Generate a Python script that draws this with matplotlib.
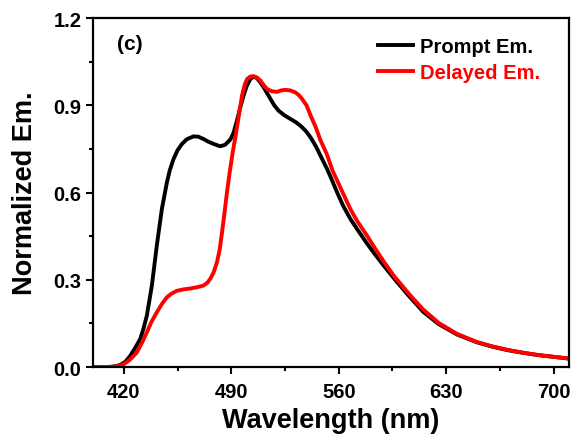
import numpy as np
import matplotlib
matplotlib.use("Agg")
import matplotlib.pyplot as plt
from matplotlib.ticker import MultipleLocator, FormatStrFormatter

# prompt emission (black)
prompt_wl = [400, 410, 415, 418, 421, 424, 427, 430.7, 433, 435, 438.3, 441.5,
             444.8, 448.1, 450, 452.4, 455, 457.9, 461, 465.4, 468.5, 471.9,
             475, 478.5, 482.8, 486, 489.4, 491.5, 493.7, 496, 498, 500,
             502.4, 504.5, 506.3, 508.5, 511.1, 513.3, 515.5, 518, 520.9,
             524.5, 528.5, 532, 535, 538.5, 541.6, 545, 548.1, 552.4, 555,
             559, 563, 567.6, 572, 578.5, 584, 589.4, 596, 604.6, 615, 625,
             637, 650, 660, 670, 680, 690, 700, 710]
prompt = [0.0, 0.0, 0.003, 0.008, 0.018, 0.037, 0.062, 0.096, 0.135, 0.176,
          0.28, 0.417, 0.543, 0.635, 0.677, 0.715, 0.745, 0.767, 0.783, 0.793,
          0.792, 0.784, 0.775, 0.767, 0.759, 0.764, 0.782, 0.805, 0.847, 0.895,
          0.933, 0.965, 0.99, 0.998, 0.995, 0.982, 0.962, 0.942, 0.922, 0.9,
          0.881, 0.866, 0.853, 0.842, 0.83, 0.812, 0.79, 0.76, 0.727, 0.681,
          0.65, 0.6, 0.553, 0.509, 0.474, 0.424, 0.385, 0.348, 0.305, 0.251,
          0.19, 0.148, 0.112, 0.085, 0.07, 0.058, 0.049, 0.041, 0.035, 0.029]

# delayed emission (red)
delayed_wl = [400, 412, 416, 420, 424, 428.5, 432, 435, 438, 441.5, 445,
              448.1, 451, 454.6, 459, 463.3, 467.5, 471.9, 474.5, 476.3,
              478.5, 480.7, 482.5, 484, 485.6, 487.2, 489, 491, 493, 494.8,
              497, 498.7, 500.3, 502.5, 504.6, 506.8, 509, 511, 513.3, 516.5,
              519.8, 522.5, 525.2, 528.5, 531.8, 534, 536.1, 539, 541.6, 545,
              548.1, 552.4, 556, 559, 563, 567.6, 572, 578.5, 584, 589.4, 596,
              606.8, 615, 625, 637, 650, 660, 670, 680, 690, 700, 710]
delayed = [0.0, 0.0, 0.003, 0.01, 0.025, 0.05, 0.085, 0.119, 0.155, 0.188,
           0.218, 0.24, 0.252, 0.262, 0.267, 0.27, 0.274, 0.28, 0.29, 0.303,
           0.325, 0.36, 0.405, 0.463, 0.53, 0.6, 0.67, 0.74, 0.8, 0.86,
           0.933, 0.97, 0.99, 0.999, 1.0, 0.995, 0.985, 0.97, 0.956, 0.948,
           0.946, 0.951, 0.953, 0.951, 0.944, 0.935, 0.922, 0.9, 0.866, 0.825,
           0.78, 0.73, 0.675, 0.641, 0.595, 0.543, 0.502, 0.451, 0.405, 0.362,
           0.313, 0.245, 0.198, 0.152, 0.114, 0.086, 0.071, 0.059, 0.049,
           0.041, 0.035, 0.029]

xticks = [420, 490, 560, 630, 700]
xminor = [455, 525, 595, 665]

plt.rcParams['font.family'] = ['Liberation Sans', 'DejaVu Sans']
plt.rcParams['font.weight'] = 'bold'

fig = plt.figure(figsize=(5.71, 4.39), dpi=100)
ax = fig.add_axes([0.163, 0.1617, 0.8335, 0.795])

ax.plot(prompt_wl, prompt, color='black', lw=2.8, label='Prompt Em.')
ax.plot(delayed_wl, delayed, color='#ff0000', lw=2.8, label='Delayed Em.')

ax.set_xlim(400, 710)
ax.set_ylim(0, 1.2)
ax.set_xticks(xticks)
ax.set_xticks(xminor, minor=True)
ax.yaxis.set_major_locator(MultipleLocator(0.3))
ax.yaxis.set_minor_locator(MultipleLocator(0.15))
ax.yaxis.set_major_formatter(FormatStrFormatter('%.1f'))

ax.tick_params(which='both', direction='out', width=1.5, labelsize=14.5)
ax.tick_params(which='major', length=5)
ax.tick_params(which='minor', length=3)
ax.tick_params(axis='x', which='major', pad=6)
for s in ax.spines.values():
    s.set_linewidth(1.6)

ax.set_xlabel('Wavelength (nm)', fontsize=19.5, fontweight='bold', labelpad=4)
ax.set_ylabel('Normalized Em.', fontsize=19.5, fontweight='bold', labelpad=11)

ax.text(0.05, 0.928, '(c)', transform=ax.transAxes, fontsize=15,
        fontweight='bold', va='center', ha='left')

ax.legend(loc='center left', bbox_to_anchor=(0.599, 0.882), frameon=False,
          handlelength=1.75, handletextpad=0.35,
          labelspacing=0.35, borderpad=0, borderaxespad=0,
          labelcolor='linecolor', prop={'weight': 'bold', 'size': 14.5})

fig.savefig('out.png', dpi=100)
